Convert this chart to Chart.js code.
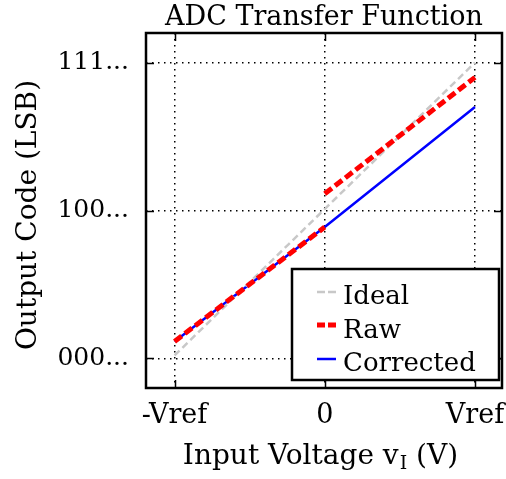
<!DOCTYPE html>
<html>
<head>
<meta charset="utf-8">
<script src="https://cdn.jsdelivr.net/npm/chart.js@4/dist/chart.umd.min.js"></script>
<style>
  html, body { margin: 0; padding: 0; background: #fff; }
  #wrap { width: 506px; height: 479px; }
</style>
</head>
<body>
<div id="wrap"><canvas id="c" width="506" height="479"></canvas></div>
<script>
// Axis ticks (normalised input / output scale)
const xTickValues = [-1, 0, 1];
const xTickLabels = ['-Vref', '0', 'Vref'];
const yTickValues = [-1, 0, 1];
const yTickLabels = ['000...', '100...', '111...'];

// Ideal transfer line
const idealX = [-1, 1];
const idealY = [-0.98, 1.0];

// Raw converter output (offset step at 0 V)
const rawX = [-1, 0, 0, 0, 1];
const rawY = [-0.885, -0.112, null, 0.113, 0.90];

// Corrected output
const correctedX = [-1, 0, 1];
const correctedY = [-0.885, -0.112, 0.70];

const FONT = '"DejaVu Serif", "Liberation Serif", serif';
const TICK_LEN = 8;

const toPoints = (xs, ys) => xs.map((x, i) => ({ x: x, y: ys[i] }));

const framePlugin = {
  id: 'frameAndLegend',
  afterDatasetsDraw(chart) {
    const { ctx, chartArea: a, scales: { x, y } } = chart;
    ctx.save();
    // inward tick marks on all four sides
    ctx.strokeStyle = '#000';
    ctx.lineWidth = 1.5;
    ctx.setLineDash([]);
    ctx.beginPath();
    xTickValues.forEach(v => {
      const px = Math.round(x.getPixelForValue(v)) + 0.5;
      ctx.moveTo(px, a.top); ctx.lineTo(px, a.top + TICK_LEN);
      ctx.moveTo(px, a.bottom); ctx.lineTo(px, a.bottom - TICK_LEN);
    });
    yTickValues.forEach(v => {
      const py = Math.round(y.getPixelForValue(v)) + 0.5;
      ctx.moveTo(a.left, py); ctx.lineTo(a.left + TICK_LEN, py);
      ctx.moveTo(a.right, py); ctx.lineTo(a.right - TICK_LEN, py);
    });
    ctx.stroke();

    // plot frame
    ctx.lineWidth = 2.5;
    ctx.strokeRect(a.left, a.top, a.right - a.left, a.bottom - a.top);

    // legend box in the lower right corner
    const bx = 292, by = 269, bw = 207, bh = 111;
    ctx.fillStyle = '#fff';
    ctx.fillRect(bx, by, bw, bh);
    ctx.lineWidth = 2.5;
    ctx.strokeStyle = '#000';
    ctx.strokeRect(bx, by, bw, bh);

    const rows = [
      { lineY: 292, baseY: 304 },
      { lineY: 325, baseY: 338 },
      { lineY: 359, baseY: 371 }
    ];
    ctx.font = '26px ' + FONT;
    ctx.textAlign = 'left';
    ctx.textBaseline = 'alphabetic';
    chart.data.datasets.forEach((ds, i) => {
      const r = rows[i];
      ctx.beginPath();
      ctx.strokeStyle = ds.borderColor;
      ctx.lineWidth = ds.borderWidth;
      ctx.setLineDash(ds.legendDash || []);
      ctx.moveTo(317, r.lineY);
      ctx.lineTo(336, r.lineY);
      ctx.stroke();
      ctx.setLineDash([]);
      ctx.fillStyle = '#000';
      ctx.fillText(ds.label, 343, r.baseY);
    });
    ctx.restore();
  },
  afterDraw(chart) {
    const { ctx, chartArea: a } = chart;
    const cx = (a.left + a.right) / 2;
    ctx.save();
    ctx.fillStyle = '#000';
    ctx.textBaseline = 'alphabetic';

    // chart title
    ctx.font = '27px ' + FONT;
    ctx.textAlign = 'center';
    ctx.fillText('ADC Transfer Function', cx, 25);

    // x-axis title with subscript
    const main1 = 'Input Voltage v';
    const sub = 'I';
    const main2 = ' (V)';
    ctx.font = '28px ' + FONT;
    const w1 = ctx.measureText(main1).width;
    const w3 = ctx.measureText(main2).width;
    ctx.font = '19px ' + FONT;
    const w2 = ctx.measureText(sub).width;
    const total = w1 + w2 + w3;
    const sx = cx - 4 - total / 2;
    ctx.textAlign = 'left';
    ctx.font = '28px ' + FONT;
    ctx.fillText(main1, sx, 464);
    ctx.font = '19px ' + FONT;
    ctx.fillText(sub, sx + w1 + 1, 469);
    ctx.font = '28px ' + FONT;
    ctx.fillText(main2, sx + w1 + w2 + 1, 464);

    // y-axis title
    ctx.translate(29, 215);
    ctx.rotate(-Math.PI / 2);
    ctx.textAlign = 'center';
    ctx.textBaseline = 'middle';
    ctx.fillText('Output Code (LSB)', 0, 0);
    ctx.restore();
  }
};

new Chart(document.getElementById('c'), {
  type: 'line',
  data: {
    datasets: [
      {
        label: 'Ideal',
        order: 1,
        data: toPoints(idealX, idealY),
        borderColor: '#c8c8c8',
        borderWidth: 2.5,
        borderDash: [7, 4],
        legendDash: [8, 3]
      },
      {
        label: 'Raw',
        order: 0,
        data: toPoints(rawX, rawY),
        borderColor: '#ff0000',
        borderWidth: 5,
        borderDash: [9, 4],
        legendDash: [8, 3]
      },
      {
        label: 'Corrected',
        order: 2,
        data: toPoints(correctedX, correctedY),
        borderColor: '#0000ff',
        borderWidth: 2.5,
        borderDash: [],
        legendDash: []
      }
    ]
  },
  options: {
    responsive: false,
    animation: false,
    devicePixelRatio: 1,
    spanGaps: false,
    layout: { padding: { top: 33, right: 4, left: 0, bottom: 0 } },
    elements: { point: { radius: 0 }, line: { tension: 0 } },
    plugins: {
      legend: { display: false },
      title: { display: false },
      tooltip: { enabled: false }
    },
    scales: {
      x: {
        type: 'linear',
        min: -1.19,
        max: 1.18,
        afterBuildTicks: s => { s.ticks = xTickValues.map(v => ({ value: v })); },
        afterFit: s => {
          s.height = 91;
          s.paddingLeft = 0;
          s.paddingRight = 0;
        },
        ticks: {
          color: '#000',
          font: { family: FONT, size: 27 },
          padding: 12,
          maxRotation: 0,
          autoSkip: false,
          callback: v => xTickLabels[xTickValues.indexOf(v)]
        },
        grid: { color: '#000', lineWidth: 1.5, drawTicks: false },
        border: { display: false, dash: [1.5, 4.5] }
      },
      y: {
        type: 'linear',
        min: -1.2,
        max: 1.2,
        afterBuildTicks: s => { s.ticks = yTickValues.map(v => ({ value: v })); },
        afterFit: s => {
          s.width = 146;
          s.paddingTop = 0;
          s.paddingBottom = 0;
        },
        ticks: {
          color: '#000',
          font: { family: FONT, size: 25 },
          padding: 17,
          autoSkip: false,
          callback: v => yTickLabels[yTickValues.indexOf(v)]
        },
        grid: { color: '#000', lineWidth: 1.5, drawTicks: false },
        border: { display: false, dash: [1.5, 4.5] }
      }
    }
  },
  plugins: [framePlugin]
});
</script>
</body>
</html>
